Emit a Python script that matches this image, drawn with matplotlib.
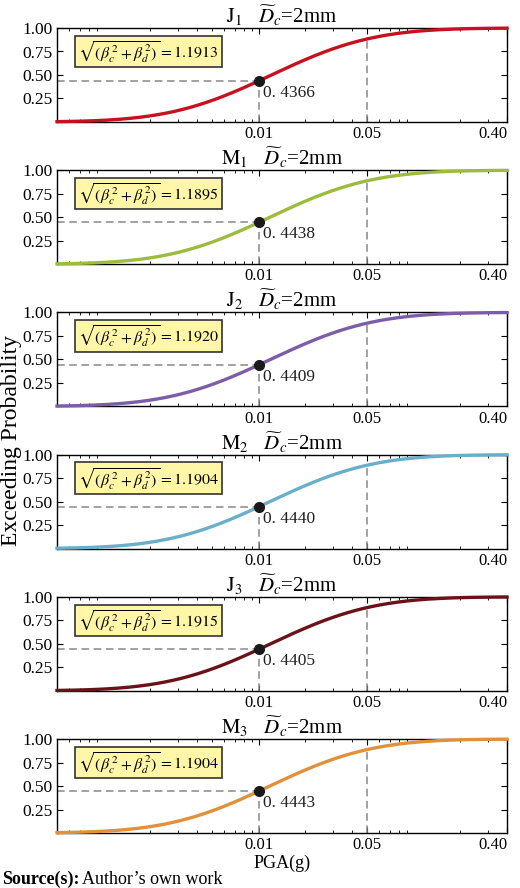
import math
import numpy as np
import matplotlib
matplotlib.use("Agg")
import matplotlib.pyplot as plt
from matplotlib.ticker import LogLocator, NullFormatter

plt.rcParams['font.family'] = ['Liberation Serif', 'DejaVu Serif']
plt.rcParams['mathtext.fontset'] = 'stix'

names = ["J_1", "M_1", "J_2", "M_2", "J_3", "M_3"]
betas = [1.1913, 1.1895, 1.1920, 1.1904, 1.1915, 1.1904]
p_at_001 = [0.4366, 0.4438, 0.4409, 0.4440, 0.4405, 0.4443]
colors = ["#C8101E", "#9DBB3D", "#7B5EA7", "#6AAFC9", "#6B1219", "#E0913A"]
xticks = [0.01, 0.05, 0.40]
xticklabels = ["0.01", "0.05", "0.40"]
yticks = [0.25, 0.50, 0.75, 1.00]

def Phi(z):
    return 0.5 * (1 + math.erf(z / math.sqrt(2)))

def Phi_inv(p):
    lo, hi = -8.0, 8.0
    for _ in range(80):
        mid = (lo + hi) / 2
        if Phi(mid) < p:
            lo = mid
        else:
            hi = mid
    return (lo + hi) / 2

W, H = 520, 888
fig = plt.figure(figsize=(W / 100, H / 100), dpi=100)
x = np.logspace(np.log10(0.0005), np.log10(0.40), 400)
left, right = 57 / W, 507 / W
for i in range(6):
    top = 28 + i * 142.2
    ax = fig.add_axes([left, 1 - (top + 94) / H, right - left, 94 / H])
    b = betas[i]
    theta = 0.01 * math.exp(-b * Phi_inv(p_at_001[i]))
    y = np.array([Phi(math.log(v / theta) / b) for v in x])
    ax.plot(x, y, color=colors[i], lw=2.4, zorder=3, clip_on=False)
    ax.set_xscale('log')
    ax.set_xlim(0.0005, 0.40)
    ax.set_ylim(0, 1.0)
    p = p_at_001[i]
    ax.plot([0.0005, 0.01], [p, p], ls=(0, (5, 3)), color='#888888', lw=1.1, zorder=2)
    ax.plot([0.01, 0.01], [0, p], ls=(0, (5, 3)), color='#888888', lw=1.1, zorder=2)
    p5 = Phi(math.log(0.05 / theta) / b)
    ax.plot([0.05, 0.05], [0, p5], ls=(0, (5, 3)), color='#888888', lw=1.1, zorder=2)
    ax.plot([0.01], [p], 'o', color='#1a1a1a', ms=7, zorder=4)
    ax.text(0.0107, p - 0.04, "0. %d" % round(p * 10000), fontsize=12.5, va='top', ha='left', color='#222222')
    ax.text(0.00068, 0.75, r"$\sqrt{(\beta_c^{\,2}+\beta_d^{\,2})}=%.4f$" % b, fontsize=11.5, va='center', ha='left',
            bbox=dict(boxstyle='square,pad=0.2', fc='#FFF6A8', ec='#333333', lw=1.2))
    ax.set_xticks(xticks)
    ax.set_xticklabels(xticklabels, fontsize=12)
    ax.xaxis.set_minor_locator(LogLocator(base=10, subs=np.arange(2, 10)))
    ax.xaxis.set_minor_formatter(NullFormatter())
    ax.set_yticks(yticks)
    ax.set_yticklabels(["%.2f" % v for v in yticks], fontsize=12.5)
    ax.tick_params(direction='in', which='both', top=True, right=True, length=4)
    ax.tick_params(which='minor', length=2.5)
    ax.tick_params(axis='x', pad=3)
    ax.tick_params(axis='y', pad=3)
    labs = ax.get_xticklabels()
    labs[-1].set_horizontalalignment('right')
    labs[-1].set_x(0.40)
    for s in ax.spines.values():
        s.set_linewidth(1.0)
    ax.set_title(r"$\mathrm{%s}$   $\widetilde{D}_c$=2mm" % names[i], fontsize=15, pad=2)
    if i == 5:
        ax.set_xlabel("PGA(g)", fontsize=13, labelpad=1)

fig.text(12 / W, 1 - 440 / H, "Exceeding Probability", rotation=90, fontsize=17, va='center', ha='center')
fig.text(2 / W, 1 - 879 / H, "Source(s):", fontsize=13, fontweight='bold', va='center', ha='left')
fig.text(82 / W, 1 - 879 / H, "Author\u2019s own work", fontsize=13, va='center', ha='left')
fig.savefig("out.png", dpi=100)
